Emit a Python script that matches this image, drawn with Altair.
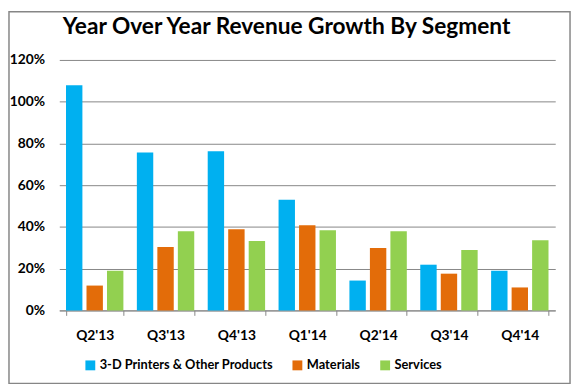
import altair as alt
import pandas as pd

quarters = ["Q2'13", "Q3'13", "Q4'13", "Q1'14", "Q2'14", "Q3'14", "Q4'14"]
segments = ["3-D Printers & Other Products", "Materials", "Services"]
printers = [1.079, 0.757, 0.762, 0.530, 0.143, 0.219, 0.190]
materials = [0.119, 0.304, 0.389, 0.408, 0.299, 0.176, 0.110]
services = [0.190, 0.379, 0.332, 0.384, 0.379, 0.289, 0.336]
colors = ["#00B0F0", "#E36C09", "#92D050"]

rows = []
for i, q in enumerate(quarters):
    for seg, vals in zip(segments, [printers, materials, services]):
        rows.append({"quarter": q, "segment": seg, "growth": vals[i]})
df = pd.DataFrame(rows)

FONT = "Lato"
FS = 14

bars = alt.Chart(df).mark_bar().encode(
    x=alt.X("quarter:N", sort=quarters, title=None,
            scale=alt.Scale(paddingInner=0.19, paddingOuter=0.095),
            axis=alt.Axis(labelAngle=0, labelFontSize=FS, labelFontWeight="bold",
                          labelColor="#000000", labelPadding=14, tickBand="extent",
                          tickSize=5, tickColor="#868686", domainColor="#868686",
                          labelFont=FONT, grid=False)),
    xOffset=alt.XOffset("segment:N", sort=segments,
                        scale=alt.Scale(paddingInner=0.2, paddingOuter=0)),
    y=alt.Y("growth:Q", title=None,
            scale=alt.Scale(domain=[0, 1.2], nice=False),
            axis=alt.Axis(format=".0%", values=[0, 0.2, 0.4, 0.6, 0.8, 1.0, 1.2],
                          labelFontSize=FS, labelFontWeight="bold", labelColor="#000000",
                          labelFont=FONT, domain=False, ticks=False, labelPadding=15,
                          grid=True, gridColor="#868686", gridWidth=1)),
    color=alt.Color("segment:N", sort=segments,
                    scale=alt.Scale(domain=segments, range=colors),
                    legend=alt.Legend(title=None, orient="none", direction="horizontal",
                                      legendX=25, legendY=303, symbolType="square",
                                      symbolSize=100, symbolStrokeWidth=0,
                                      labelFontSize=13, labelFontWeight="bold",
                                      labelColor="#000000", labelFont=FONT,
                                      labelLimit=400, labelOffset=3, columnPadding=18)),
)

frame = alt.Chart(alt.Data(values=[{"k": 1}])).mark_rect(
    fill="transparent", stroke="#868686", strokeWidth=1.5
).encode(
    x=alt.value(-51), x2=alt.value(518), y=alt.value(-49), y2=alt.value(328)
)

chart = alt.layer(bars, frame).properties(
    width=503, height=254,
    title=alt.Title("Year Over Year Revenue Growth By Segment", fontSize=23,
                    font=FONT, fontWeight="bold", color="#000000",
                    anchor="middle", frame="group", dx=-21, offset=-28),
    autosize=alt.AutoSizeParams(type="none"),
    padding={"left": 52, "top": 50, "right": 17, "bottom": 76},
).configure_view(stroke=None)

chart.save("out.html", embed_options={"renderer": "svg", "actions": False})
